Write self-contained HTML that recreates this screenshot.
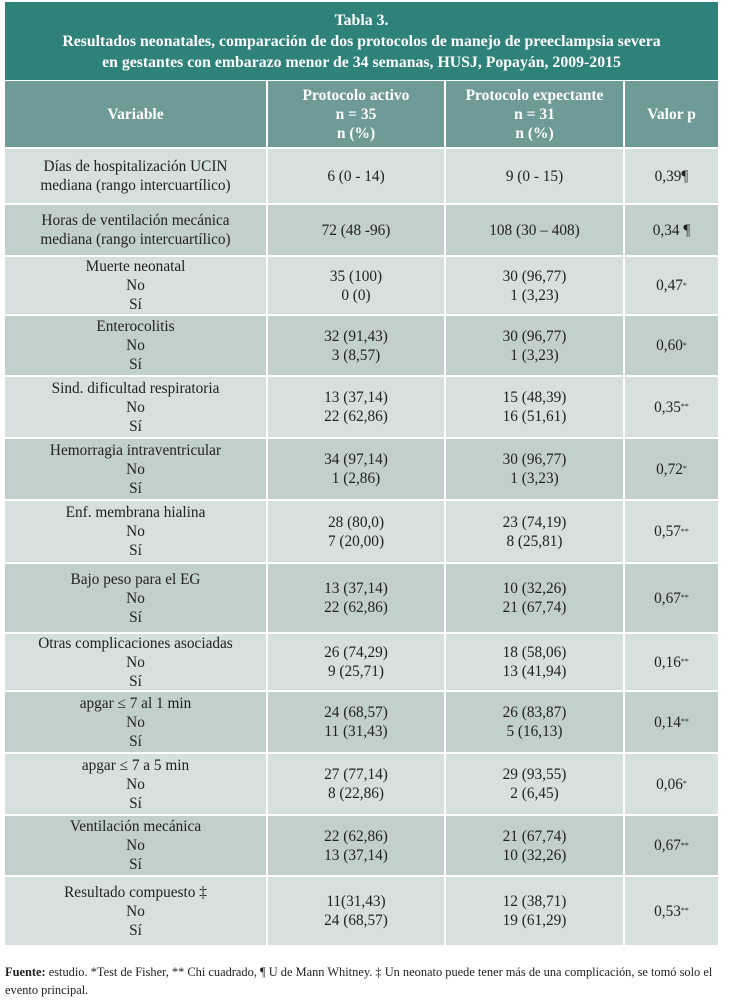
<!DOCTYPE html>
<html><head><meta charset="utf-8">
<style>
body{margin:0;width:729px;height:1004px;background:#fff;font-family:"Liberation Serif",serif;position:relative;overflow:hidden}
.title{position:absolute;left:5px;top:2px;width:713px;height:78px;background:#2f8279;color:#fff;font-weight:bold;font-size:15.8px;text-align:center;line-height:21px;box-sizing:border-box;padding-top:8px}
.cell{position:absolute;display:flex;align-items:center;justify-content:center;text-align:center;box-sizing:border-box;font-size:15.3px;color:#222;line-height:19px;border-right:2px solid #fff;border-bottom:2px solid #fff}
.hd{background:#6e9a97;color:#fff;font-weight:bold;font-size:15.5px}
.l{background:#d6e0df}.d{background:#c2d0cd}
sup{font-size:8px;vertical-align:6px;line-height:0}
.foot{position:absolute;left:5px;top:963px;width:718px;font-size:12.4px;line-height:18px;color:#222}
</style></head><body>
<div class="title">Tabla 3.<br>Resultados neonatales, comparación de dos protocolos de manejo de preeclampsia severa<br>en gestantes con embarazo menor de 34 semanas, HUSJ, Popayán, 2009-2015</div>
<div id="tbl"></div>
<div class="foot"><b>Fuente:</b> estudio. *Test de Fisher, ** Chi cuadrado, ¶ U de Mann Whitney. ‡ Un neonato puede tener más de una complicación, se tomó solo el evento principal.</div>
<script>
const cols=[5,268,446,625,720];
const rowEdges=[81,149,205,257,316,377,439,501,564,634,692,754,816,877,947];
const labels=["Variable","Días de hospitalización UCIN<br>mediana (rango intercuartílico)","Horas de ventilación mecánica<br>mediana (rango intercuartílico)","Muerte neonatal<br>No<br>Sí","Enterocolitis<br>No<br>Sí","Sind. dificultad respiratoria<br>No<br>Sí","Hemorragia intraventricular<br>No<br>Sí","Enf. membrana hialina<br>No<br>Sí","Bajo peso para el EG<br>No<br>Sí","Otras complicaciones asociadas<br>No<br>Sí","apgar ≤ 7 al 1 min<br>No<br>Sí","apgar ≤ 7 a 5 min<br>No<br>Sí","Ventilación mecánica<br>No<br>Sí","Resultado compuesto ‡<br>No<br>Sí"];
const activo=["Protocolo activo<br>n = 35<br>n (%)","6 (0 - 14)","72 (48 -96)","35 (100)<br>0 (0)","32 (91,43)<br>3 (8,57)","13 (37,14)<br>22 (62,86)","34 (97,14)<br>1 (2,86)","28 (80,0)<br>7 (20,00)","13 (37,14)<br>22 (62,86)","26 (74,29)<br>9 (25,71)","24 (68,57)<br>11 (31,43)","27 (77,14)<br>8 (22,86)","22 (62,86)<br>13 (37,14)","11(31,43)<br>24 (68,57)"];
const expectante=["Protocolo expectante<br>n = 31<br>n (%)","9 (0 - 15)","108 (30 – 408)","30 (96,77)<br>1 (3,23)","30 (96,77)<br>1 (3,23)","15 (48,39)<br>16 (51,61)","30 (96,77)<br>1 (3,23)","23 (74,19)<br>8 (25,81)","10 (32,26)<br>21 (67,74)","18 (58,06)<br>13 (41,94)","26 (83,87)<br>5 (16,13)","29 (93,55)<br>2 (6,45)","21 (67,74)<br>10 (32,26)","12 (38,71)<br>19 (61,29)"];
const pvals=["Valor p","0,39¶","0,34 ¶","0,47<sup>*</sup>","0,60<sup>*</sup>","0,35<sup>**</sup>","0,72<sup>*</sup>","0,57<sup>**</sup>","0,67<sup>**</sup>","0,16<sup>**</sup>","0,14<sup>**</sup>","0,06<sup>*</sup>","0,67<sup>**</sup>","0,53<sup>**</sup>"];
const colData=[labels,activo,expectante,pvals];
const colNames=['variable-cell','activo-cell','expectante-cell','p-value-cell'];
const tbl=document.getElementById('tbl');
for(let r=0;r<labels.length;r++){
  for(let c=0;c<4;c++){
    const el=document.createElement('div');
    
    
    el.className='cell '+(r===0?'hd':(r%2? 'l':'d'));
    el.style.left=cols[c]+'px';el.style.width=(cols[c+1]-cols[c])+'px';
    el.style.top=rowEdges[r]+'px';el.style.height=(rowEdges[r+1]-rowEdges[r])+'px';
    el.innerHTML=colData[c][r];
    tbl.appendChild(el);
  }
}
</script>
</body></html>
